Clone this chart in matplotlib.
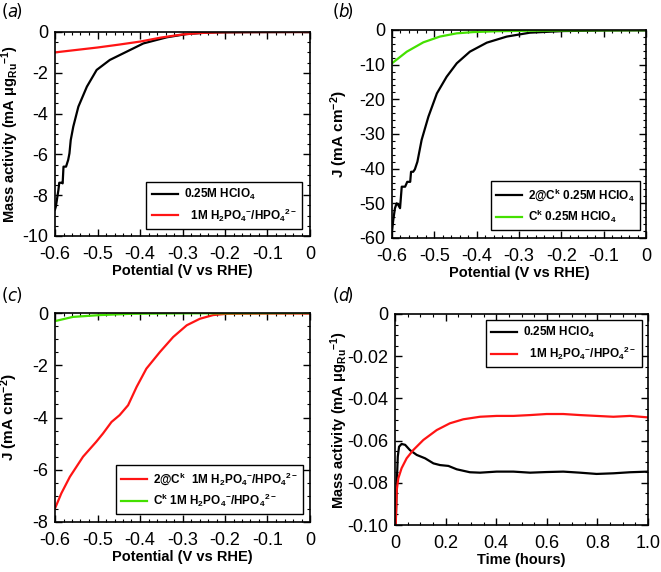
import numpy as np
import matplotlib
matplotlib.use('Agg')
import matplotlib.pyplot as plt
from matplotlib.ticker import AutoMinorLocator, MultipleLocator

# ---- data ----
# (a) mass activity vs potential
a_hclo4_v = [-0.600, -0.598, -0.592, -0.590, -0.584, -0.582, -0.580, -0.574, -0.569, -0.566,
             -0.563, -0.557, -0.545, -0.525, -0.502, -0.471, -0.431, -0.392, -0.337, -0.290,
             -0.250, -0.220, -0.150, 0.0]
a_hclo4_j = [-8.7, -8.56, -7.75, -7.39, -7.39, -7.42, -6.6, -6.6, -6.27, -5.95,
             -5.3, -4.64, -3.66, -2.68, -1.86, -1.37, -0.96, -0.56, -0.26, -0.10,
             -0.04, -0.02, -0.01, 0.0]
a_phos_v = [-0.60, -0.55, -0.50, -0.45, -0.40, -0.35, -0.30, -0.25, -0.20, -0.10, 0.0]
a_phos_j = [-1.00, -0.88, -0.76, -0.62, -0.47, -0.27, -0.12, -0.04, -0.01, 0.0, 0.0]

# (b) J vs potential, HClO4
b_cat_v = [-0.600, -0.597, -0.593, -0.589, -0.585, -0.581, -0.577, -0.569, -0.564, -0.557,
           -0.555, -0.550, -0.546, -0.540, -0.530, -0.514, -0.494, -0.471, -0.447, -0.416,
           -0.376, -0.329, -0.274, -0.195, -0.100, 0.0]
b_cat_j = [-58.2, -54.8, -51.4, -50.0, -50.5, -51.4, -45.2, -45.2, -43.8, -43.8,
           -40.9, -40.9, -40.2, -38.0, -31.7, -25.0, -18.3, -13.5, -9.6, -6.25,
           -3.65, -1.9, -0.77, -0.3, -0.15, -0.1]
b_ck_v = [-0.600, -0.565, -0.526, -0.487, -0.447, -0.408, -0.350, -0.270, -0.150, 0.0]
b_ck_j = [-9.6, -6.25, -3.56, -1.9, -0.96, -0.6, -0.35, -0.2, -0.1, -0.05]

# (c) J vs potential, phosphate buffer
c_cat_v = [-0.600, -0.585, -0.565, -0.534, -0.503, -0.487, -0.467, -0.448, -0.428, -0.408,
           -0.385, -0.353, -0.322, -0.290, -0.259, -0.228, -0.196, -0.100, 0.0]
c_cat_j = [-7.48, -6.90, -6.27, -5.50, -4.93, -4.61, -4.17, -3.91, -3.53, -2.83,
           -2.13, -1.49, -0.92, -0.47, -0.22, -0.08, -0.03, -0.02, -0.02]
c_ck_v = [-0.600, -0.558, -0.495, -0.420, -0.300, -0.200, 0.0]
c_ck_j = [-0.31, -0.15, -0.08, -0.03, -0.015, -0.01, 0.0]

# (d) chronoamperometry
d_t = [0.003, 0.007, 0.011, 0.016, 0.026, 0.040, 0.059, 0.086, 0.119, 0.152,
       0.178, 0.211, 0.244, 0.296, 0.336, 0.402, 0.468, 0.534, 0.599, 0.665,
       0.731, 0.797, 0.863, 0.929, 1.0]
d_hclo4 = [-0.0992, -0.080, -0.0676, -0.0629, -0.0616, -0.062, -0.0645, -0.0668, -0.0684, -0.0708,
           -0.0716, -0.072, -0.0736, -0.075, -0.0752, -0.0747, -0.0747, -0.0752, -0.0749, -0.0747,
           -0.0752, -0.0758, -0.0755, -0.075, -0.0747]
d_t2 = [0.003, 0.007, 0.013, 0.026, 0.046, 0.072, 0.112, 0.165, 0.217, 0.270,
        0.336, 0.402, 0.468, 0.534, 0.599, 0.665, 0.731, 0.797, 0.863, 0.929, 1.0]
d_phos = [-0.0992, -0.0834, -0.0779, -0.0731, -0.0684, -0.0645, -0.0597, -0.055, -0.0518, -0.0499,
          -0.0487, -0.0483, -0.0483, -0.0479, -0.0474, -0.0474, -0.0479, -0.0483, -0.0487, -0.0483, -0.049]

# ---- style ----
plt.rcParams['font.family'] = ['Liberation Sans', 'DejaVu Sans']
plt.rcParams['axes.unicode_minus'] = False
plt.rcParams['mathtext.fontset'] = 'custom'
plt.rcParams['mathtext.rm'] = 'Liberation Sans:bold'
plt.rcParams['mathtext.it'] = 'Liberation Sans:bold'
plt.rcParams['mathtext.bf'] = 'Liberation Sans:bold'
plt.rcParams['mathtext.default'] = 'rm'

RED = '#ff1414'
GREEN = '#44e000'
LW = 1.6

fig = plt.figure(figsize=(6.61, 5.72), dpi=100)
W, H = 661, 572


def make_ax(l, t, r, b):
    return fig.add_axes([l / W, 1 - b / H, (r - l) / W, (b - t) / H])


def style(ax, xlim, ylim, xstep, ystep, xlabel, ylabel, ylab_x, ylab_size=10.5):
    ax.set_xlim(*xlim)
    ax.set_ylim(*ylim)
    ax.xaxis.set_major_locator(MultipleLocator(xstep))
    ax.yaxis.set_major_locator(MultipleLocator(ystep))
    ax.xaxis.set_minor_locator(AutoMinorLocator())
    ax.yaxis.set_minor_locator(AutoMinorLocator())
    ax.tick_params(which='both', direction='in', top=True, right=True, labelsize=13)
    ax.tick_params(axis='x', pad=7)
    ax.tick_params(axis='y', pad=5)
    ax.tick_params(which='major', length=5, width=1)
    ax.tick_params(which='minor', length=2.5, width=0.8)
    for s in ax.spines.values():
        s.set_linewidth(1.2)
    ax.set_xlabel(xlabel, fontsize=10.5, fontweight='bold', labelpad=1)
    ax.set_ylabel(ylabel, fontsize=ylab_size, fontweight='bold')
    ax.yaxis.set_label_coords(ylab_x, 0.5)


def legend(ax, loc, anchor):
    lg = ax.legend(loc=loc, bbox_to_anchor=anchor, borderaxespad=0, fancybox=False,
                   framealpha=1, edgecolor='black',
                   prop={'weight': 'bold', 'size': 8.5},
                   handlelength=2.2, borderpad=0.45, labelspacing=0.35, handletextpad=0.5)
    lg.get_frame().set_linewidth(1.0)


mass_lbl = 'Mass activity (mA μg$_{Ru}$$^{-1}$)'
pot_lbl = 'Potential (V vs RHE)'
j_lbl = 'J (mA cm$^{-2}$)'
hclo4 = '0.25M HClO$_4$'
phos = '1M H$_2$PO$_4$$^{-}$/HPO$_4$$^{2-}$'
pot_ticks = ['-0.6', '-0.5', '-0.4', '-0.3', '-0.2', '-0.1', '0']

# (a)
ax = make_ax(55, 32, 310, 236)
ax.plot(a_hclo4_v, a_hclo4_j, color='black', lw=LW, label=hclo4)
ax.plot(a_phos_v, a_phos_j, color=RED, lw=LW, label='  ' + phos)
style(ax, (-0.6, 0), (-10, 0), 0.1, 2, pot_lbl, mass_lbl, -0.135, 10.5)
ax.set_xticks(np.arange(-0.6, 0.01, 0.1))
ax.set_xticklabels(pot_ticks)
legend(ax, 'lower right', (0.97, 0.035))

# (b)
ax = make_ax(392, 30, 646, 238)
ax.plot(b_cat_v, b_cat_j, color='black', lw=LW, label='2@C$^k$ 0.25M HClO$_4$')
ax.plot(b_ck_v, b_ck_j, color=GREEN, lw=LW, label='C$^k$ 0.25M HClO$_4$')
style(ax, (-0.6, 0), (-60, 0), 0.1, 10, pot_lbl, j_lbl, -0.165, 11)
ax.set_xticks(np.arange(-0.6, 0.01, 0.1))
ax.set_xticklabels(pot_ticks)
legend(ax, 'lower right', (0.976, 0.038))

# (c)
ax = make_ax(55, 313, 310, 522)
ax.plot(c_cat_v, c_cat_j, color=RED, lw=LW, label='2@C$^k$  ' + phos)
ax.plot(c_ck_v, c_ck_j, color=GREEN, lw=LW, label='C$^k$ ' + phos)
style(ax, (-0.6, 0), (-8, 0), 0.1, 2, pot_lbl, j_lbl, -0.137, 11)
ax.set_xticks(np.arange(-0.6, 0.01, 0.1))
ax.set_xticklabels(pot_ticks)
legend(ax, 'lower right', (0.973, 0.038))

# (d)
ax = make_ax(395, 314, 648, 525)
ax.plot(d_t, d_hclo4, color='black', lw=LW, label=hclo4)
ax.plot(d_t2, d_phos, color=RED, lw=LW, label='  ' + phos)
style(ax, (0, 1), (-0.1, 0), 0.2, 0.02, 'Time (hours)', mass_lbl, -0.178, 10.5)
ax.set_yticks(np.arange(-0.1, 0.001, 0.02))
ax.set_yticklabels(['-0.10', '-0.08', '-0.06', '-0.04', '-0.02', '0'])
ax.set_xticks(np.arange(0, 1.01, 0.2))
ax.set_xticklabels(['0', '0.2', '0.4', '0.6', '0.8', '1.0'])
legend(ax, 'upper right', (0.976, 0.972))

# panel labels
for txt, x, y in [('a', 2, 12), ('b', 333, 12), ('c', 2, 296), ('d', 333, 296)]:
    fig.text(x / W, 1 - y / H, '(', fontsize=12, family='DejaVu Sans', va='center')
    fig.text((x + 5) / W, 1 - y / H, txt, fontsize=12, family='DejaVu Sans',
             style='italic', va='center')
    fig.text((x + 14) / W, 1 - y / H, ')', fontsize=12, family='DejaVu Sans', va='center')

fig.savefig('out.png', dpi=100)
